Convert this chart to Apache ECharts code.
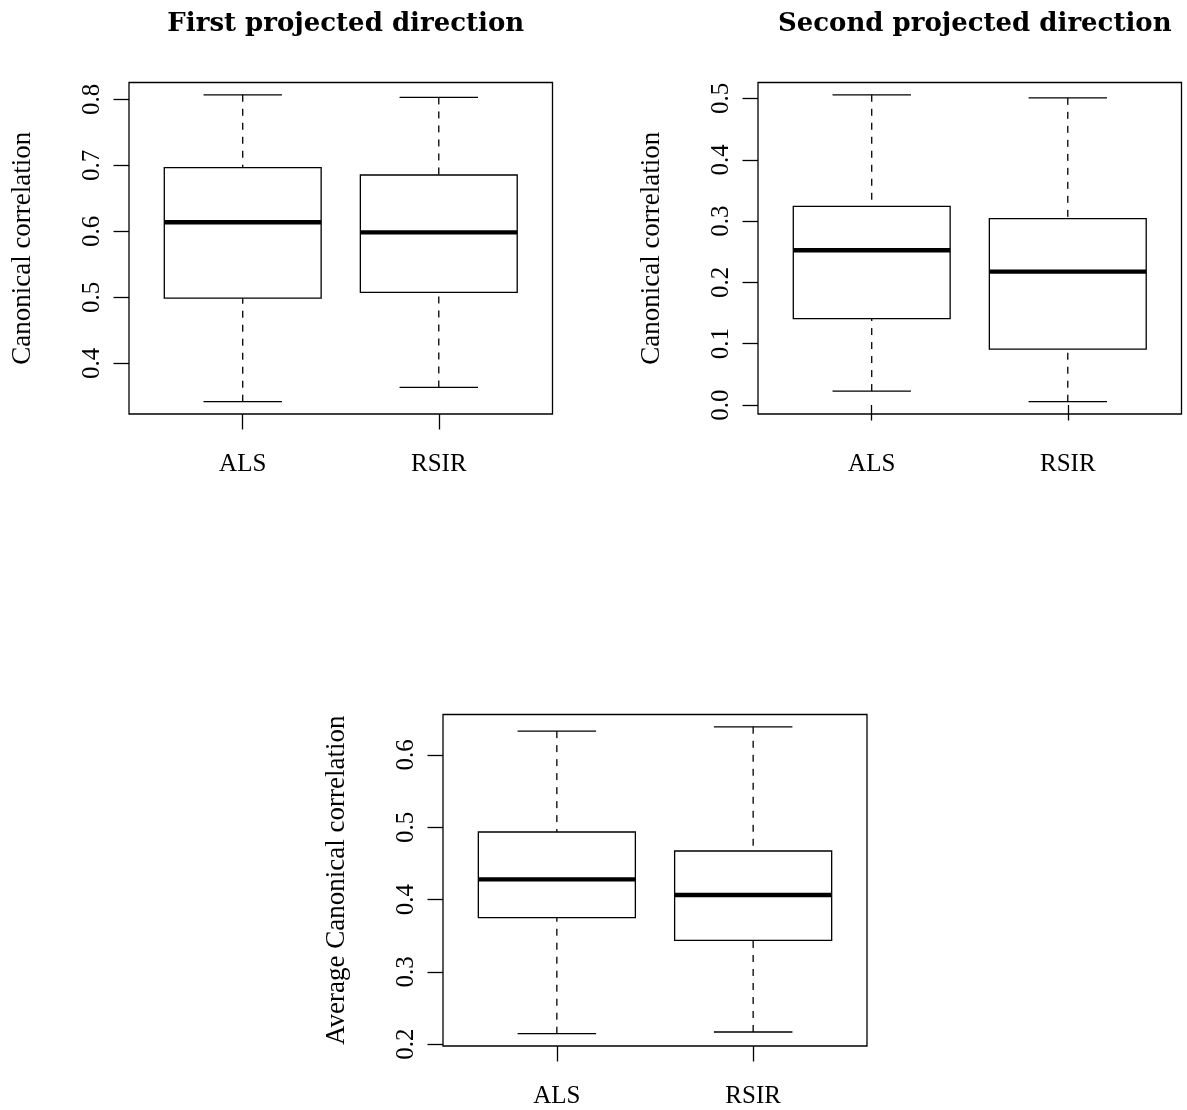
<!DOCTYPE html>
<html>
<head>
<meta charset="utf-8">
<title>Canonical correlation boxplots</title>
<script src="https://cdn.jsdelivr.net/npm/echarts@6/dist/echarts.min.js"></script>
<style>
  html, body { margin: 0; padding: 0; background: #fff; }
  #chart { width: 1187px; height: 1110px; }
</style>
</head>
<body>
<div id="chart"></div>
<script>
// Methods compared in every panel
const categories = ['ALS', 'RSIR'];

// Five-number summaries per method: [lower whisker, Q1, median, Q3, upper whisker]
const firstDirection = [
  [0.342, 0.499, 0.614, 0.6965, 0.807],
  [0.3636, 0.5076, 0.5985, 0.6855, 0.803]
];
const secondDirection = [
  [0.0228, 0.141, 0.2524, 0.324, 0.506],
  [0.0054, 0.0912, 0.2176, 0.304, 0.501]
];
const averageCorrelation = [
  [0.2145, 0.375, 0.428, 0.4935, 0.633],
  [0.2169, 0.3437, 0.4064, 0.4672, 0.639]
];

// Tick labels on the value axes
const firstTicks = [0.4, 0.5, 0.6, 0.7, 0.8];
const secondTicks = [0.0, 0.1, 0.2, 0.3, 0.4, 0.5];
const averageTicks = [0.2, 0.3, 0.4, 0.5, 0.6];

const FONT = '"Liberation Serif", "Times New Roman", serif';
const TITLE_FONT = '"DejaVu Serif", "Liberation Serif", serif';
const LW = 1.3;

// Axis range extended by 4% on each side, like R's default
function extend(lo, hi) {
  const r = hi - lo;
  return [lo - 0.04 * r, hi + 0.04 * r];
}
function yRange(boxes) {
  const all = boxes.flat();
  return extend(Math.min(...all), Math.max(...all));
}
const xRange = extend(0.5, categories.length + 0.5);

function boxData(boxes) {
  return boxes.map((b, i) => [i + 1].concat(b));
}

function renderBox(params, api) {
  const x = api.value(0);
  const lo = api.coord([x, api.value(1)]);
  const q1 = api.coord([x, api.value(2)]);
  const md = api.coord([x, api.value(3)]);
  const q3 = api.coord([x, api.value(4)]);
  const hi = api.coord([x, api.value(5)]);
  const half = api.size([0.4, 0])[0];
  const cap = half / 2;
  const cx = md[0];
  const solid = { stroke: '#000', lineWidth: LW, fill: null };
  const dashed = { stroke: '#000', lineWidth: LW, lineDash: [7, 7], fill: null };
  return {
    type: 'group',
    children: [
      { type: 'line', shape: { x1: cx, y1: hi[1], x2: cx, y2: q3[1] }, style: dashed },
      { type: 'line', shape: { x1: cx, y1: lo[1], x2: cx, y2: q1[1] }, style: dashed },
      { type: 'line', shape: { x1: cx - cap, y1: hi[1], x2: cx + cap, y2: hi[1] }, style: solid },
      { type: 'line', shape: { x1: cx - cap, y1: lo[1], x2: cx + cap, y2: lo[1] }, style: solid },
      { type: 'rect', shape: { x: cx - half, y: q3[1], width: 2 * half, height: q1[1] - q3[1] },
        style: { stroke: '#000', lineWidth: LW, fill: '#fff' } },
      { type: 'line', shape: { x1: cx - half, y1: md[1], x2: cx + half, y2: md[1] },
        style: { stroke: '#000', lineWidth: 4.4 } }
    ]
  };
}

const panels = [
  { grid: { left: 129, top: 82.5, width: 423.5, height: 331.5 }, boxes: firstDirection, ticks: firstTicks,
    name: 'Canonical correlation', title: 'First projected direction' },
  { grid: { left: 758, top: 82.5, width: 423.5, height: 331.5 }, boxes: secondDirection, ticks: secondTicks,
    name: 'Canonical correlation', title: 'Second projected direction' },
  { grid: { left: 443, top: 714.5, width: 424, height: 331.5 }, boxes: averageCorrelation, ticks: averageTicks,
    name: 'Average Canonical correlation', title: null }
];

const grids = [], xAxes = [], yAxes = [], series = [], titles = [];
panels.forEach((p, i) => {
  grids.push(Object.assign({ show: true, borderColor: '#000', borderWidth: LW, backgroundColor: 'transparent' }, p.grid));
  xAxes.push({
    type: 'value', gridIndex: i, min: xRange[0], max: xRange[1],
    axisLine: { show: false }, splitLine: { show: false },
    axisTick: { show: true, length: 15.5, customValues: categories.map((c, k) => k + 1),
      lineStyle: { color: '#000', width: LW } },
    axisLabel: { show: true, margin: 38, customValues: categories.map((c, k) => k + 1),
      formatter: v => categories[Math.round(v) - 1], color: '#000', fontFamily: FONT, fontSize: 25 }
  });
  const yr = yRange(p.boxes);
  yAxes.push({
    type: 'value', gridIndex: i, min: yr[0], max: yr[1],
    name: p.name, nameLocation: 'middle', nameGap: 93,
    nameTextStyle: { color: '#000', fontFamily: FONT, fontSize: 27 },
    axisLine: { show: false }, splitLine: { show: false },
    axisTick: { show: true, length: 15.5, customValues: p.ticks, lineStyle: { color: '#000', width: LW } },
    axisLabel: { show: true, rotate: 90, margin: 24, customValues: p.ticks,
      formatter: v => v.toFixed(1), color: '#000', fontFamily: FONT, fontSize: 25 }
  });
  series.push({
    type: 'custom', xAxisIndex: i, yAxisIndex: i, renderItem: renderBox,
    data: boxData(p.boxes), encode: { x: 0, y: [1, 2, 3, 4, 5] }, clip: false, silent: true
  });
  if (p.title) {
    titles.push({
      text: p.title, left: p.grid.left + p.grid.width / 2, top: 6, textAlign: 'center',
      textStyle: { color: '#000', fontFamily: TITLE_FONT, fontWeight: 'bold', fontSize: 26 }
    });
  }
});

const chart = echarts.init(document.getElementById('chart'), null, { renderer: 'canvas' });
chart.setOption({
  animation: false,
  backgroundColor: '#fff',
  title: titles,
  grid: grids,
  xAxis: xAxes,
  yAxis: yAxes,
  series: series
});
</script>
</body>
</html>
